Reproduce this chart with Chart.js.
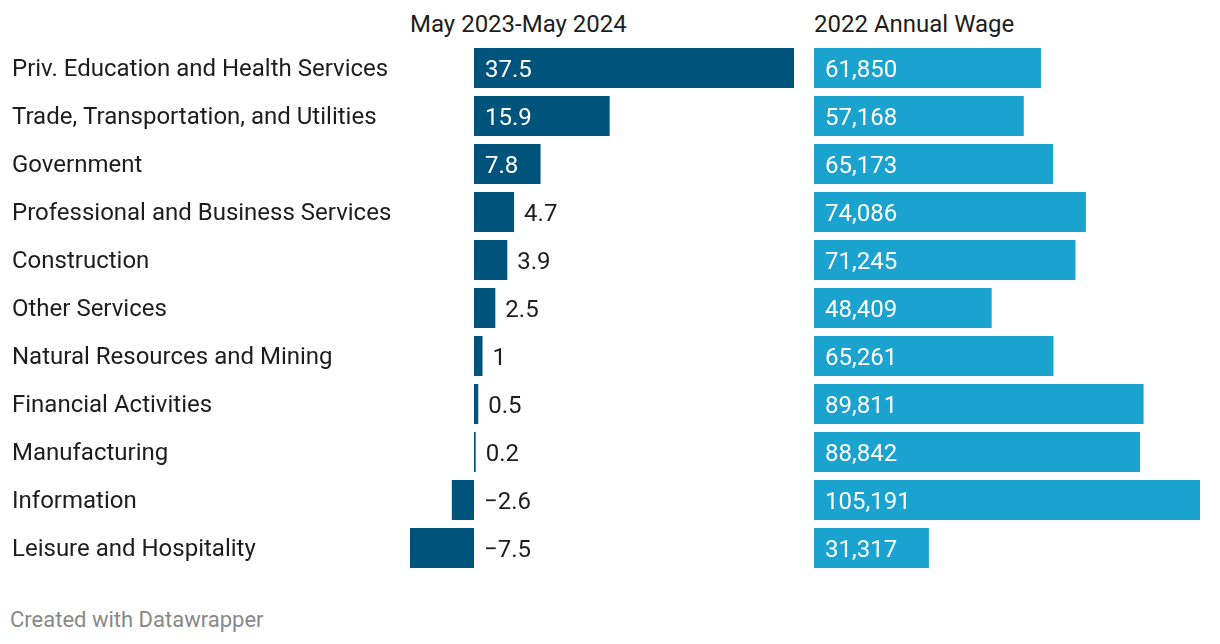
<!DOCTYPE html>
<html>
<head>
<meta charset="utf-8">
<script src="https://cdn.jsdelivr.net/npm/chart.js@4"></script>
<style>
  body { margin: 0; background: #fff; font-family: Roboto, sans-serif; color: #1d1d1d; }
  #wrap { position: relative; width: 1220px; height: 644px; }
  .head { position: absolute; top: 8px; font-size: 24px; line-height: 32px; }
  .box { position: absolute; top: 44px; height: 528px; }
  #foot { position: absolute; left: 10px; top: 605px; font-size: 22px; line-height: 30px; color: #888; }
</style>
</head>
<body>
<div id="wrap">
  <div class="head" style="left:410px">May 2023-May 2024</div>
  <div class="head" style="left:814px">2022 Annual Wage</div>
  <div class="box" style="left:0;width:800px"><canvas id="change"></canvas></div>
  <div class="box" style="left:814px;width:386px"><canvas id="wage"></canvas></div>
  <div id="foot">Created with Datawrapper</div>
</div>
<script>
const industries = [
  "Priv. Education and Health Services",
  "Trade, Transportation, and Utilities",
  "Government",
  "Professional and Business Services",
  "Construction",
  "Other Services",
  "Natural Resources and Mining",
  "Financial Activities",
  "Manufacturing",
  "Information",
  "Leisure and Hospitality"
];
const jobChange = [37.5, 15.9, 7.8, 4.7, 3.9, 2.5, 1, 0.5, 0.2, -2.6, -7.5];
const annualWage = [61850, 57168, 65173, 74086, 71245, 48409, 65261, 89811, 88842, 105191, 31317];

const FONT_SIZE = 24;

function fmtChange(v) {
  return v < 0 ? "\u2212" + Math.abs(v) : String(v);
}

function fmtWage(v) {
  return v.toLocaleString("en-US");
}

// value labels: white inside the bar when it fits, dark just right of it otherwise
function valueLabels(format) {
  return {
    id: "valueLabels",
    afterDatasetsDraw(chart) {
      const ctx = chart.ctx;
      const meta = chart.getDatasetMeta(0);
      const values = chart.data.datasets[0].data;
      ctx.save();
      ctx.font = `${FONT_SIZE}px Roboto`;
      ctx.textBaseline = "middle";
      ctx.textAlign = "left";
      meta.data.forEach((bar, i) => {
        const text = format(values[i]);
        const w = ctx.measureText(text).width;
        const start = Math.min(bar.x, bar.base);
        const end = Math.max(bar.x, bar.base);
        if (values[i] > 0 && end - start >= w + 24) {
          ctx.fillStyle = "#ffffff";
          ctx.fillText(text, start + 11, bar.y + 3);
        } else {
          ctx.fillStyle = "#1d1d1d";
          const x = values[i] < 0 ? bar.base : end;
          ctx.fillText(text, x + 10, bar.y + 3);
        }
      });
      ctx.restore();
    }
  };
}

function barConfig(values, color, min, max, showLabels, format, padLeft, padRight) {
  return {
    type: "bar",
    data: {
      labels: industries,
      datasets: [{
        data: values,
        backgroundColor: color,
        barPercentage: 1,
        categoryPercentage: 40 / 48
      }]
    },
    options: {
      indexAxis: "y",
      responsive: true,
      maintainAspectRatio: false,
      animation: false,
      layout: { padding: { left: padLeft, right: padRight, top: 0, bottom: 0 } },
      plugins: { legend: { display: false }, tooltip: { enabled: false } },
      scales: {
        x: { display: false, min: min, max: max },
        y: {
          display: showLabels,
          grid: { display: false },
          border: { display: false },
          afterFit: (scale) => {
            if (showLabels) scale.width = 398;
            scale.paddingTop = 0;
            scale.paddingBottom = 0;
          },
          ticks: {
            crossAlign: "far",
            padding: 0,
            labelOffset: 2,
            color: "#1d1d1d",
            font: { family: "Roboto", size: FONT_SIZE }
          }
        }
      }
    },
    plugins: [valueLabels(format)]
  };
}

new Chart(document.getElementById("change"),
  barConfig(jobChange, "#00547c", -7.5, 37.5, true, fmtChange, 12, 6));
new Chart(document.getElementById("wage"),
  barConfig(annualWage, "#1aa3cf", 0, 105191, false, fmtWage, 0, 0));
</script>
</body>
</html>
